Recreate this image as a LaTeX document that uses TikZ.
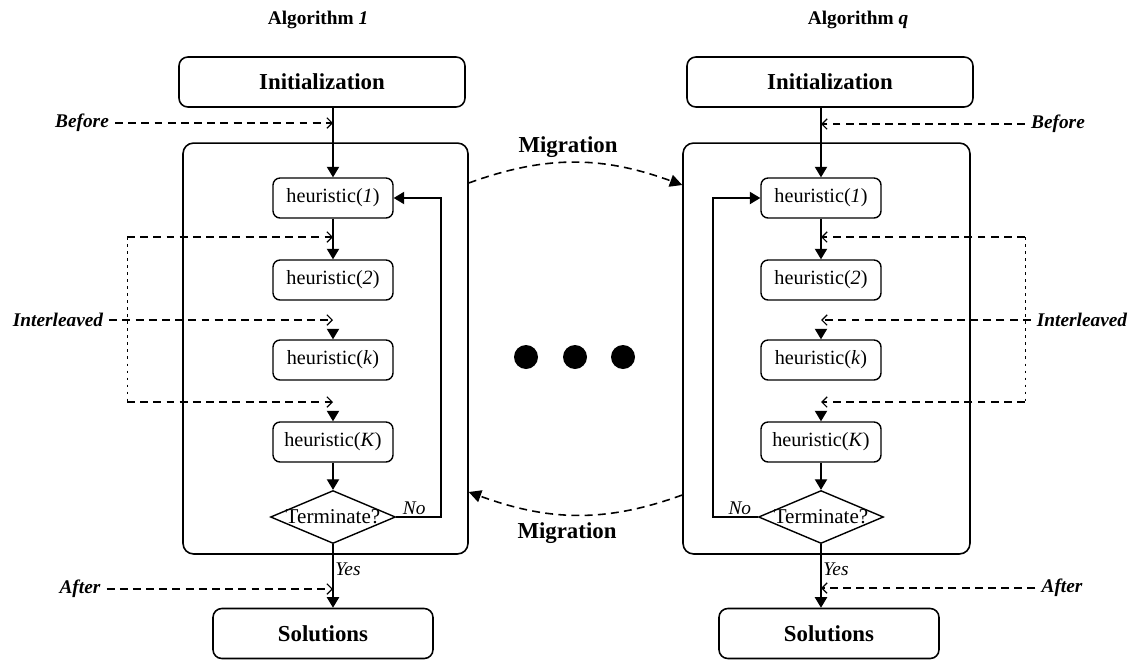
\documentclass[tikz,border=0pt]{standalone}
\usepackage{fontspec}
\setmainfont{Liberation Serif}
\usepackage{tikz}
\usetikzlibrary{arrows.meta, positioning, shapes.geometric, calc}

\tikzset{
  stage/.style={draw, rectangle, rounded corners=5pt, line width=0.9pt, minimum width=5.72cm, minimum height=1cm, font=\fontsize{13}{15}\selectfont\bfseries},
  heur/.style={draw, rectangle, rounded corners=4pt, line width=0.8pt, minimum width=2.4cm, minimum height=0.8cm, font=\fontsize{11.5}{13}\selectfont},
  decision/.style={draw, diamond, line width=0.8pt, minimum width=2.5cm, minimum height=1.06cm, inner sep=0pt, label={[font=\fontsize{12}{14}\selectfont]center:Terminate?}},
  pool/.style={draw, rectangle, rounded corners=6pt, line width=0.9pt, minimum height=8.22cm},
  flow/.style={line width=0.8pt, -{Triangle[width=7pt,length=6pt]}},
  hint/.style={line width=0.7pt, dash pattern=on 4.5pt off 3pt, -{Straight Barb[width=6pt,length=3pt]}},
  rail/.style={line width=0.5pt, dash pattern=on 1.5pt off 2.5pt},
  mig/.style={line width=0.9pt, dash pattern=on 4.5pt off 3pt, -{Triangle[width=7pt,length=7pt]}},
  tag/.style={font=\fontsize{11}{13}\selectfont\bfseries\itshape},
  title/.style={font=\fontsize{13}{15}\selectfont\bfseries},
  answer/.style={font=\fontsize{11}{13}\selectfont\itshape, inner sep=1pt},
}

\begin{document}
\begin{tikzpicture}[x=0.02cm, y=-0.02cm]
\useasboundingbox (0,0) rectangle (1133,660);

% algorithm 1
\node[font=\fontsize{11}{13}\selectfont\bfseries] (alg1) at (318,20) {Algorithm \textit{1}};
\node[stage] (init1) at (322,82) {Initialization};
\node[pool, minimum width=5.7cm] (pool1) at (325.5,348.5) {};
\node[heur] (h11) at (333,198) {heuristic(\textit{1})};
\node[heur] (h21) at (333,280) {heuristic(\textit{2})};
\node[heur] (h31) at (333,360) {heuristic(\textit{k})};
\node[heur] (h41) at (333,442) {heuristic(\textit{K})};
\node[decision] (t1) at (333,517) {};
\node[stage, minimum width=4.4cm] (sol1) at (323,633.5) {Solutions};

\draw[flow] (init1.south -| h11.north) -- (h11.north);
\draw[flow] (h11) -- (h21);
\draw[flow] ([yshift=6pt]h31.north) -- (h31.north);
\draw[flow] ([yshift=6pt]h41.north) -- (h41.north);
\draw[flow] (h41) -- (t1);
\draw[flow] (t1.south) -- node[answer, right, pos=0.4] {Yes} (t1.south |- sol1.north);
\draw[flow] (t1.east) -- node[answer, above, pos=0.4] {No} ++(45,0) |- (h11.east);

\node[tag] (bef1) at (82,123) {Before};
\node[tag] (aft1) at (80,589) {After};
\node[tag] (int1) at (58,320) {Interleaved};
\coordinate (il1) at (127,237);
\coordinate (il3) at (127,402);
\draw[hint] (bef1) -- (bef1 -| h11);
\draw[hint] (aft1) -- (aft1 -| h11);
\draw[rail] (il1) -- (il3);
\draw[hint] (il1) -- (il1 -| h11);
\draw[hint] (int1) -- (int1 -| h11);
\draw[hint] (il3) -- (il3 -| h11);

% algorithm q
\node[font=\fontsize{11}{13}\selectfont\bfseries] (alg2) at (858,20) {Algorithm \textit{q}};
\node[stage] (init2) at (830,82) {Initialization};
\node[pool, minimum width=5.74cm] (pool2) at (826.5,348.5) {};
\node[heur] (h12) at (821,198) {heuristic(\textit{1})};
\node[heur] (h22) at (821,280) {heuristic(\textit{2})};
\node[heur] (h32) at (821,360) {heuristic(\textit{k})};
\node[heur] (h42) at (821,442) {heuristic(\textit{K})};
\node[decision] (t2) at (821,517) {};
\node[stage, minimum width=4.4cm] (sol2) at (829,633.5) {Solutions};

\draw[flow] (init2.south -| h12.north) -- (h12.north);
\draw[flow] (h12) -- (h22);
\draw[flow] ([yshift=6pt]h32.north) -- (h32.north);
\draw[flow] ([yshift=6pt]h42.north) -- (h42.north);
\draw[flow] (h42) -- (t2);
\draw[flow] (t2.south) -- node[answer, right, pos=0.4] {Yes} (t2.south |- sol2.north);
\draw[flow] (t2.west) -- node[answer, above, pos=0.4] {No} ++(-45,0) |- (h12.west);

\node[tag] (bef2) at (1058,124) {Before};
\node[tag] (aft2) at (1062,588) {After};
\node[tag] (int2) at (1082,320) {Interleaved};
\coordinate (ir1) at (1025,237);
\coordinate (ir3) at (1025,402);
\draw[hint] (bef2) -- (bef2 -| h12);
\draw[hint] (aft2) -- (aft2 -| h12);
\draw[rail] (ir1) -- (ir3);
\draw[hint] (ir1) -- (ir1 -| h12);
\draw[hint] (int2) -- (int2 -| h12);
\draw[hint] (ir3) -- (ir3 -| h12);

% migration between the two
\node[title] (mig1) at (568,147) {Migration};
\node[title] (mig2) at (567,533) {Migration};
\draw[mig] (pool1.east |- 0,183) to[out=20,in=160] (pool2.west |- 0,185);
\draw[mig] (pool2.west |- 0,495) to[out=200,in=-20] (pool1.east |- 0,492);

\foreach \x in {526,575,623} \fill (\x,357) circle (0.24cm);
\end{tikzpicture}
\end{document}
